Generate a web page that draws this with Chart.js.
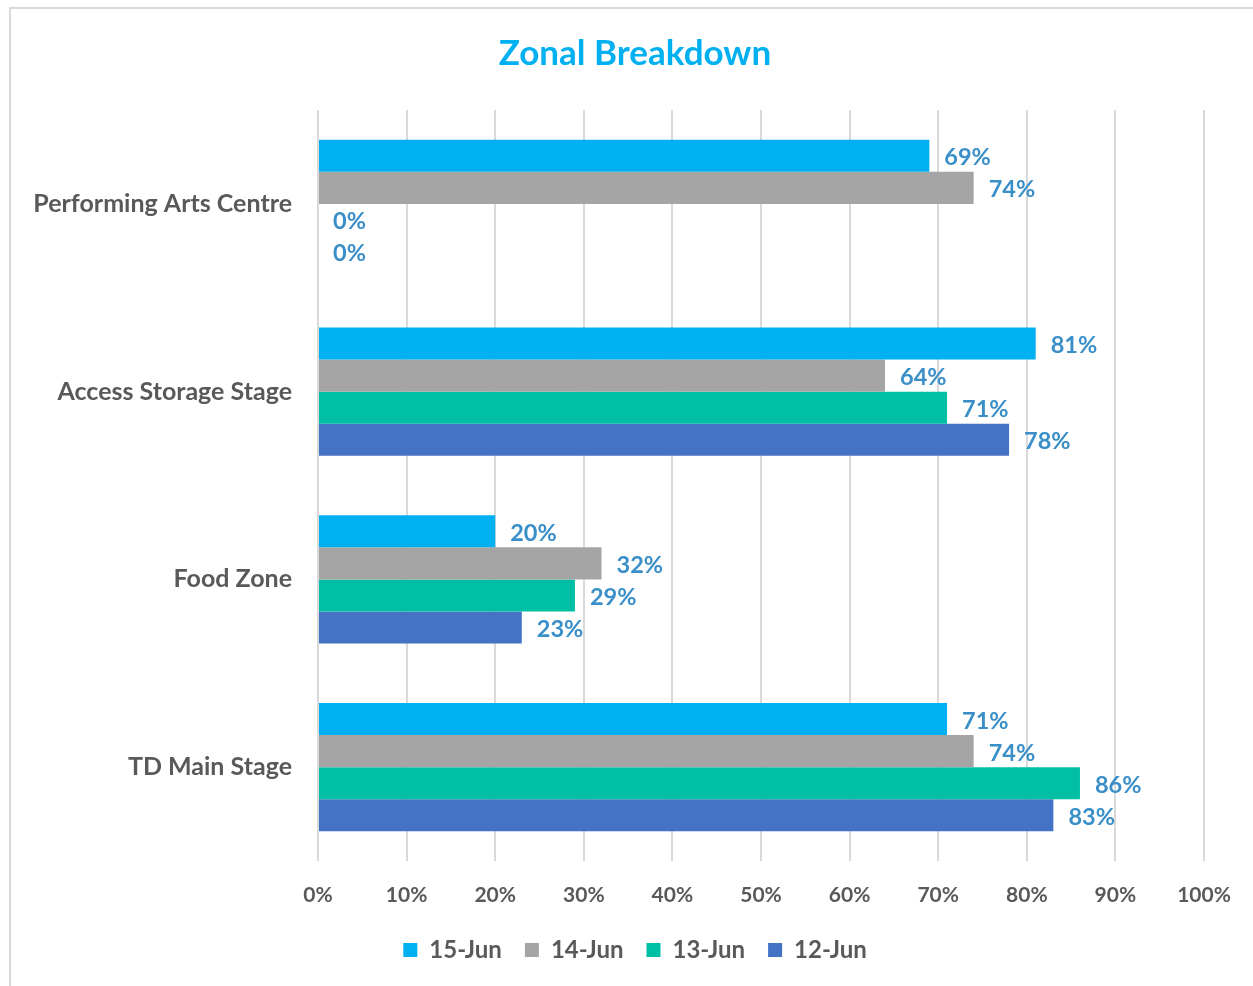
<!DOCTYPE html>
<html>
<head>
<meta charset="utf-8">
<script src="https://cdn.jsdelivr.net/npm/chart.js@4"></script>
<style>
html,body{margin:0;padding:0;background:#fff;}
#wrap{position:absolute;left:0;top:0;width:1253px;height:986px;}
</style>
</head>
<body>
<div id="wrap"><canvas id="c" width="1253" height="986"></canvas></div>
<script>
const categories = ["Performing Arts Centre", "Access Storage Stage", "Food Zone", "TD Main Stage"];
const seriesNames = ["15-Jun", "14-Jun", "13-Jun", "12-Jun"];
const jun15 = [69, 81, 20, 71];
const jun14 = [74, 64, 32, 74];
const jun13 = [0, 71, 29, 86];
const jun12 = [0, 78, 23, 83];
const xTicks = [0, 10, 20, 30, 40, 50, 60, 70, 80, 90, 100];
const colors = ["#00b0f0", "#a5a5a5", "#00bfa5", "#4472c4"];
const seriesValues = [jun15, jun14, jun13, jun12];

const FONT = "Lato, 'Open Sans', sans-serif";

const frame = {
  id: 'frame',
  beforeDraw(chart) {
    const ctx = chart.ctx;
    ctx.save();
    ctx.fillStyle = '#fff';
    ctx.fillRect(0, 0, chart.width, chart.height);
    ctx.strokeStyle = '#d9d9d9';
    ctx.lineWidth = 2;
    ctx.strokeRect(10, 8, chart.width + 10, chart.height + 10);
    ctx.restore();
  }
};

const valueLabels = {
  id: 'valueLabels',
  afterDatasetsDraw(chart) {
    const ctx = chart.ctx;
    ctx.save();
    ctx.font = "bold 23.5px " + FONT;
    ctx.fillStyle = '#3a8fc8';
    ctx.textAlign = 'left';
    ctx.textBaseline = 'middle';
    chart.data.datasets.forEach((ds, i) => {
      const meta = chart.getDatasetMeta(i);
      meta.data.forEach((el, j) => {
        ctx.fillText(ds.data[j] + '%', el.x + 15, el.y + 2);
      });
    });
    ctx.restore();
  }
};

new Chart(document.getElementById('c'), {
  type: 'bar',
  data: {
    labels: categories,
    datasets: seriesNames.map((n, i) => ({
      label: n,
      data: seriesValues[i],
      backgroundColor: colors[i],
      borderWidth: 0,
      barPercentage: 1.0,
      categoryPercentage: 0.682
    }))
  },
  options: {
    indexAxis: 'y',
    responsive: false,
    animation: false,
    layout: { padding: { left: 17, right: 0, top: 0, bottom: 14 } },
    scales: {
      x: {
        min: 0, max: 100,
        afterBuildTicks(scale) { scale.ticks = xTicks.map(v => ({ value: v })); },
        afterFit(scale) { scale.height = 54; scale.paddingRight = 49; },
        grid: { color: '#d9d9d9', lineWidth: 2, drawTicks: false },
        border: { display: false },
        ticks: {
          padding: 22,
          color: '#595959',
          font: { family: FONT, size: 21, weight: 'bold' },
          callback: v => v + '%'
        }
      },
      y: {
        afterFit(scale) { scale.width = 301; },
        grid: { display: false, drawTicks: false },
        border: { display: false },
        ticks: {
          padding: 26,
          color: '#595959',
          font: { family: FONT, size: 25, weight: 'bold' }
        }
      }
    },
    plugins: {
      title: {
        display: true,
        text: 'Zonal Breakdown',
        color: '#00b0f0',
        font: { family: FONT, size: 35, weight: 'bold' },
        padding: { top: 33, bottom: 35 }
      },
      legend: {
        position: 'bottom',
        labels: {
          boxWidth: 14, boxHeight: 14,
          padding: 23,
          color: '#595959',
          font: { family: FONT, size: 24, weight: 'bold' }
        }
      },
      tooltip: { enabled: false }
    }
  },
  plugins: [frame, valueLabels]
});
</script>
</body>
</html>
